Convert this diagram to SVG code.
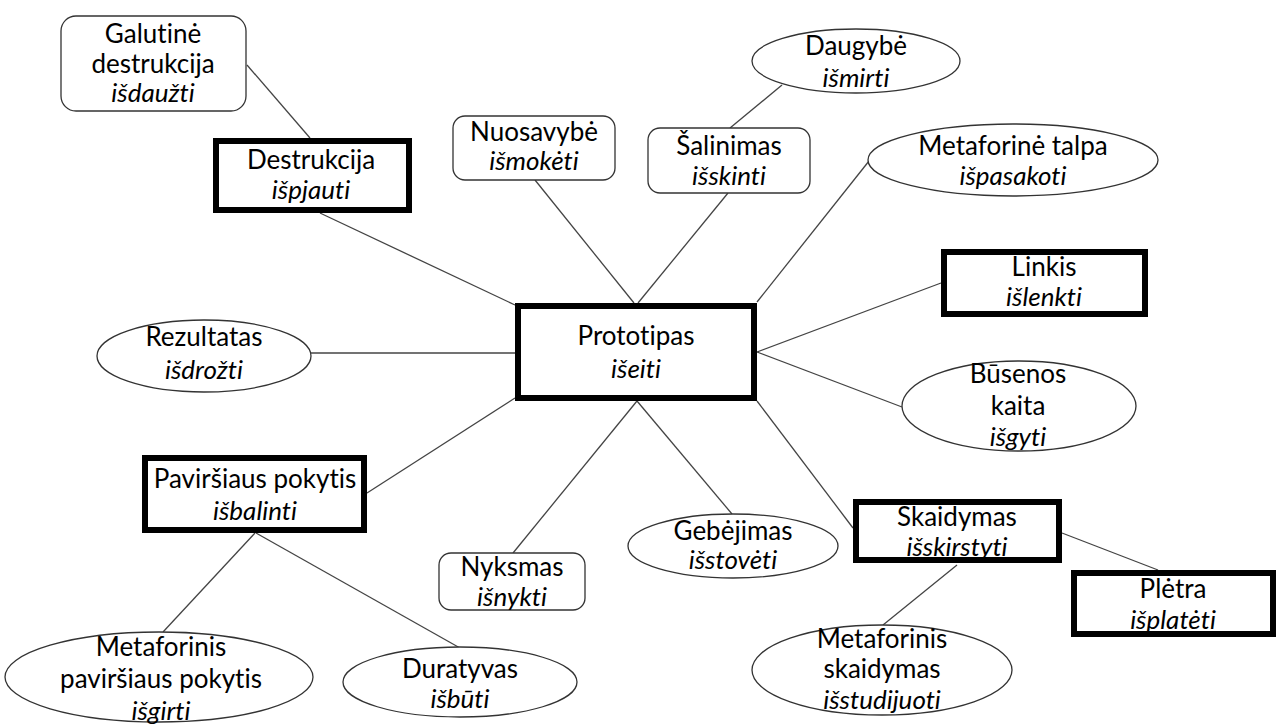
<svg xmlns="http://www.w3.org/2000/svg" width="1285" height="725" viewBox="0 0 1285 725">
  <style>
    text { font-family: Lato, "Liberation Sans", sans-serif; font-size: 26px; fill: #000; text-anchor: middle; font-variant-ligatures: none; }
    .it { font-style: italic; }
    .thin { fill: #fff; stroke: #333; stroke-width: 1.3; }
    .thick { fill: #fff; stroke: #000; stroke-width: 6; }
    #connectors line { stroke: #444; stroke-width: 1.3; }
  </style>
  <rect width="1285" height="725" fill="#fff"/>

  <!-- connectors -->
  <g id="connectors">
    <line x1="247" y1="65" x2="310" y2="138"/>
    <line x1="320" y1="213" x2="515" y2="305"/>
    <line x1="535" y1="180" x2="634" y2="303"/>
    <line x1="728" y1="193" x2="638" y2="303"/>
    <line x1="730" y1="128" x2="782" y2="85"/>
    <line x1="757" y1="302" x2="869" y2="161"/>
    <line x1="757" y1="352" x2="941" y2="283"/>
    <line x1="757" y1="352" x2="902" y2="407"/>
    <line x1="757" y1="401" x2="853" y2="528"/>
    <line x1="1062" y1="533" x2="1158" y2="570"/>
    <line x1="957" y1="565" x2="883" y2="625"/>
    <line x1="637" y1="401" x2="732" y2="514"/>
    <line x1="637" y1="401" x2="513" y2="553"/>
    <line x1="515" y1="398" x2="367" y2="493"/>
    <line x1="515" y1="353" x2="311" y2="353"/>
    <line x1="255" y1="533" x2="163" y2="632"/>
    <line x1="256" y1="533" x2="460" y2="648"/>
  </g>

  <g id="galutine-destrukcija">
    <rect class="thin" x="61" y="16" width="185" height="95" rx="15"/>
    <text x="153" y="43">Galutinė</text>
    <text x="153" y="73">destrukcija</text>
    <text class="it" x="153" y="102">išdaužti</text>
  </g>

  <g id="destrukcija">
    <rect class="thick" x="216" y="141" width="193" height="69"/>
    <text x="311" y="169">Destrukcija</text>
    <text class="it" x="311" y="199">išpjauti</text>
  </g>

  <g id="nuosavybe">
    <rect class="thin" x="453" y="116" width="162" height="64" rx="12"/>
    <text x="534" y="141">Nuosavybė</text>
    <text class="it" x="534" y="170">išmokėti</text>
  </g>

  <g id="salinimas">
    <rect class="thin" x="648" y="128" width="162" height="65" rx="12"/>
    <text x="729" y="155">Šalinimas</text>
    <text class="it" x="729" y="185">išskinti</text>
  </g>

  <g id="daugybe">
    <ellipse class="thin" cx="856" cy="61" rx="104" ry="32"/>
    <text x="856" y="55">Daugybė</text>
    <text class="it" x="856" y="87">išmirti</text>
  </g>

  <g id="metaforine-talpa">
    <ellipse class="thin" cx="1013" cy="160" rx="145" ry="36"/>
    <text x="1013" y="155">Metaforinė talpa</text>
    <text class="it" x="1013" y="185">išpasakoti</text>
  </g>

  <g id="linkis">
    <rect class="thick" x="944" y="252" width="201" height="62"/>
    <text x="1044" y="276">Linkis</text>
    <text class="it" x="1044" y="306">išlenkti</text>
  </g>

  <g id="busenos-kaita">
    <ellipse class="thin" cx="1019" cy="406" rx="117" ry="45"/>
    <text x="1018" y="383">Būsenos</text>
    <text x="1018" y="415">kaita</text>
    <text class="it" x="1018" y="446">išgyti</text>
  </g>

  <g id="prototipas">
    <rect class="thick" x="518" y="306" width="236" height="92"/>
    <text x="636" y="345">Prototipas</text>
    <text class="it" x="636" y="378">išeiti</text>
  </g>

  <g id="rezultatas">
    <ellipse class="thin" cx="204" cy="356" rx="107" ry="36"/>
    <text x="204" y="346">Rezultatas</text>
    <text class="it" x="204" y="379">išdrožti</text>
  </g>

  <g id="pavirsiaus-pokytis">
    <rect class="thick" x="145" y="458" width="219" height="72"/>
    <text x="255" y="488">Paviršiaus pokytis</text>
    <text class="it" x="255" y="520">išbalinti</text>
  </g>

  <g id="skaidymas">
    <rect class="thick" x="856" y="502" width="203" height="58"/>
    <text x="957" y="526">Skaidymas</text>
    <text class="it" x="957" y="556">išskirstyti</text>
  </g>

  <g id="pletra">
    <rect class="thick" x="1074" y="573" width="199" height="61"/>
    <text x="1173" y="598">Plėtra</text>
    <text class="it" x="1173" y="629">išplatėti</text>
  </g>

  <g id="gebejimas">
    <ellipse class="thin" cx="733" cy="546" rx="105" ry="32"/>
    <text x="733" y="540">Gebėjimas</text>
    <text class="it" x="733" y="569">išstovėti</text>
  </g>

  <g id="nyksmas">
    <rect class="thin" x="439" y="553" width="146" height="57" rx="12"/>
    <text x="512" y="576">Nyksmas</text>
    <text class="it" x="512" y="606">išnykti</text>
  </g>

  <g id="metaforinis-skaidymas">
    <ellipse class="thin" cx="882" cy="670" rx="130" ry="45"/>
    <text x="882" y="648">Metaforinis</text>
    <text x="882" y="678">skaidymas</text>
    <text class="it" x="882" y="709">išstudijuoti</text>
  </g>

  <g id="duratyvas">
    <ellipse class="thin" cx="460" cy="682" rx="117" ry="35"/>
    <text x="460" y="678">Duratyvas</text>
    <text class="it" x="460" y="708">išbūti</text>
  </g>

  <g id="metaforinis-pavirsiaus-pokytis">
    <ellipse class="thin" cx="159" cy="677" rx="154" ry="45"/>
    <text x="161" y="656">Metaforinis</text>
    <text x="161" y="688">paviršiaus pokytis</text>
    <text class="it" x="161" y="720">išgirti</text>
  </g>
</svg>
